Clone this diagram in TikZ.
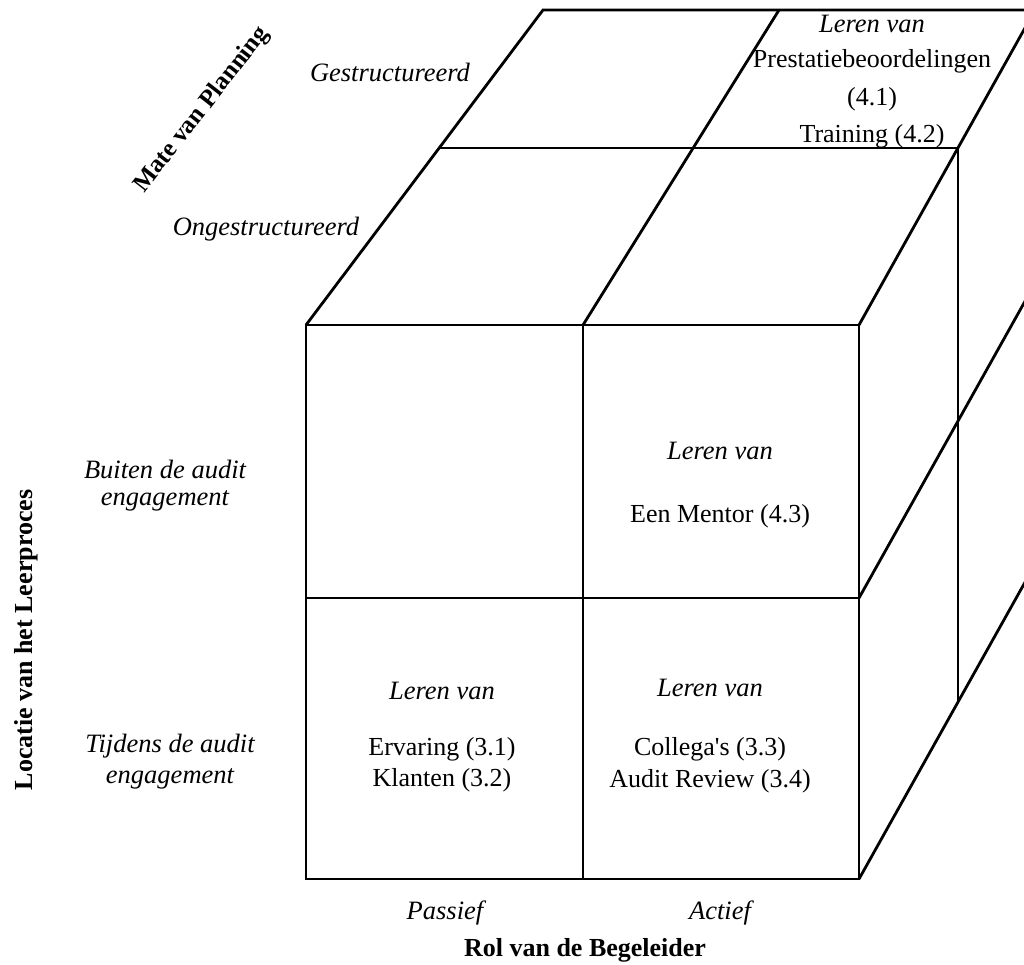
\documentclass[tikz,border=0pt]{standalone}
\usepackage{fontspec}
\setmainfont{Liberation Serif}
\newcommand{\straightquote}{\XeTeXglyph\XeTeXcharglyph"0027\relax}
\begin{document}
\begin{tikzpicture}[x=1pt,y=-1pt,
  edge/.style={line width=2.8pt, line join=miter},
  txt/.style={font=\fontsize{26}{30}\selectfont, inner sep=0pt, anchor=center},
  itx/.style={font=\fontsize{26.5}{30}\selectfont\itshape, inner sep=0pt, anchor=center},
  bld/.style={font=\fontsize{26}{30}\selectfont\bfseries, inner sep=0pt, anchor=center}]
\useasboundingbox (0,0) rectangle (1024,964);
\fill[white] (0,0) rectangle (1024,964);
% corners
\coordinate (F1) at (306,325);
\coordinate (F2) at (859,325);
\coordinate (F3) at (859,879);
\coordinate (F4) at (306,879);
\coordinate (FmT) at (583,325);
\coordinate (FmB) at (583,879);
\coordinate (FmL) at (306,598);
\coordinate (FmR) at (859,598);
\coordinate (B1) at (543,10);
\coordinate (B2) at (1035,10);
\coordinate (BmT) at (779,10);
\coordinate (DmL) at (440,148);
\coordinate (DmR) at (958,148);
\coordinate (DmB) at (958,702);
\coordinate (RmE) at (1057,244);
\coordinate (RbE) at (1057,525);
\begin{scope}
\clip (0,0) rectangle (1024,964);
\draw[edge] (F1) rectangle (F3);
\draw[edge] (FmT) -- (FmB);
\draw[edge] (FmL) -- (FmR);
\draw[edge] (F1) -- (B1) -- (B2) -- (F2);
\draw[edge] (FmT) -- (BmT);
\draw[edge] (DmL) -- (DmR) -- (DmB);
\draw[edge] (FmR) -- (RmE);
\draw[edge] (F3) -- (RbE);
\end{scope}
% top face texts
\node[itx] (t41a) at (872,24) {Leren van};
\node[txt] (t41b) at (872,61) {Prestatiebeoordelingen};
\node[txt] (t41c) at (872,99) {(4.1)};
\node[txt] (t42) at (872,136) {Training (4.2)};
% front face texts
\node[itx] (m1) at (720,451) {Leren van};
\node[txt] (m2) at (720,516) {Een Mentor (4.3)};
\node[itx] (l1) at (442,691) {Leren van};
\node[txt] (l2) at (442,749) {Ervaring (3.1)};
\node[txt] (l3) at (442,780) {Klanten (3.2)};
\node[itx] (r1) at (710,688) {Leren van};
\node[txt] (r2) at (710,749) {Collega\straightquote s (3.3)};
\node[txt] (r3) at (710,781) {Audit Review (3.4)};
% axis labels
\node[itx] (gs) at (390,72) {Gestructureerd};
\node[itx] (ogs) at (266,229) {Ongestructureerd};
\node[bld, rotate=52, font=\fontsize{25}{30}\selectfont\bfseries] (mate) at (202,110) {Mate van Planning};
\node[itx] (bu1) at (165,469) {Buiten de audit};
\node[itx] (bu2) at (165,501) {engagement};
\node[itx] (ti1) at (170,746) {Tijdens de audit};
\node[itx] (ti2) at (170,779) {engagement};
\node[bld, rotate=90] (loc) at (26,640) {Locatie van het Leerproces};
\node[itx] (pas) at (445,913) {Passief};
\node[itx] (act) at (720,913) {Actief};
\node[bld] (rol) at (585,950) {Rol van de Begeleider};
\end{tikzpicture}
\end{document}
